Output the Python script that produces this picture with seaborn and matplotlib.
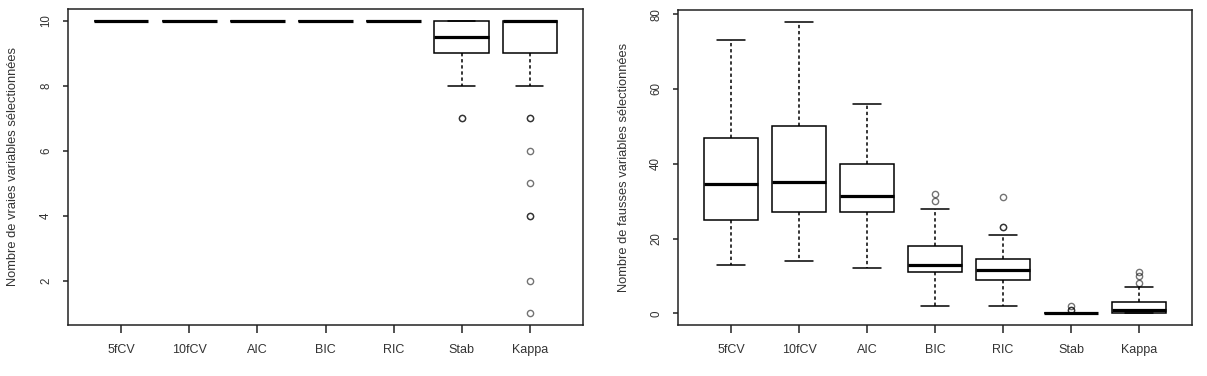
import pandas as pd
import matplotlib
matplotlib.use("Agg")
import matplotlib.pyplot as plt
import seaborn as sns

methodes = ['5fCV', '10fCV', 'AIC', 'BIC', 'RIC', 'Stab', 'Kappa']

# Nombre de vraies variables sélectionnées (10 = toutes)
vrais_5fcv = [10, 10, 10, 10, 10]
vrais_10fcv = [10, 10, 10, 10, 10]
vrais_aic = [10, 10, 10, 10, 10]
vrais_bic = [10, 10, 10, 10, 10]
vrais_ric = [10, 10, 10, 10, 10]
vrais_stab = [7, 7, 8, 9, 9, 9, 9, 10, 10, 10, 10, 10, 10, 10]
vrais_kappa = [1, 2, 4, 4, 5, 6, 7, 7, 8] + [9] * 6 + [10] * 22

# Nombre de fausses variables sélectionnées
faux_5fcv = [13, 25, 34.5, 47, 73]
faux_10fcv = [14, 27, 35, 50, 78]
faux_aic = [12, 27, 31.5, 40, 56]
faux_bic = [2, 11, 11, 11, 13, 13, 13, 18, 18, 18, 28, 30, 32]
faux_ric = [2, 9, 9, 9, 9, 11.5, 11.5, 11.5, 11.5, 14.5, 14.5, 14.5, 14.5, 21, 23, 23, 31]
faux_stab = [0, 0, 0, 0, 0, 0, 0, 0, 0, 0, 1, 1, 2]
faux_kappa = [0, 0, 0, 0, 0, 1, 1, 1, 1, 3, 3, 3, 3, 7, 8, 10, 11]

vrais = [vrais_5fcv, vrais_10fcv, vrais_aic, vrais_bic, vrais_ric, vrais_stab, vrais_kappa]
faux = [faux_5fcv, faux_10fcv, faux_aic, faux_bic, faux_ric, faux_stab, faux_kappa]


def long_df(series):
    rows = []
    for m, vals in zip(methodes, series):
        for v in vals:
            rows.append((m, v))
    return pd.DataFrame(rows, columns=['methode', 'valeur'])


sns.set_style("white")
plt.rcParams['font.family'] = ['Liberation Sans', 'DejaVu Sans']

fig = plt.figure(figsize=(12.07, 3.76), dpi=100)
ax1 = fig.add_axes([68 / 1207, 51 / 376, 515 / 1207, 316 / 376])
ax2 = fig.add_axes([678 / 1207, 51 / 376, 514 / 1207, 315 / 376])

style = dict(
    color='white', linecolor='black', saturation=1, width=0.8, linewidth=1.1,
    whiskerprops=dict(linestyle=(0, (2.2, 1.8))),
    medianprops=dict(linewidth=2.3, color='black'),
    flierprops=dict(marker='o', markerfacecolor='none', markeredgecolor='black',
                    markersize=4.5, markeredgewidth=1.0, alpha=0.55),
)

panels = [
    (ax1, vrais, 'Nombre de vraies variables sélectionnées', (0.64, 10.36), [2, 4, 6, 8, 10], -0.095),
    (ax2, faux, 'Nombre de fausses variables sélectionnées', (-3.12, 81.12), [0, 20, 40, 60, 80], -0.093),
]

for ax, series, label, ylim, yticks, lx in panels:
    df = long_df(series)
    sns.boxplot(data=df, x='methode', y='valeur', order=methodes, ax=ax, **style)
    ax.set_xlim(-0.78, 6.78)
    ax.set_ylim(*ylim)
    ax.set_yticks(yticks)
    ax.set_xlabel('')
    ax.set_ylabel(label, fontsize=9.3, color='#333333')
    ax.yaxis.set_label_coords(lx, 0.5)
    ax.tick_params(axis='x', length=6, width=1.1, pad=8, labelsize=9,
                   colors='#222222', labelcolor='#333333', bottom=True)
    ax.tick_params(axis='y', length=3.5, width=1.1, pad=8, labelsize=8.3,
                   colors='#222222', labelcolor='#333333', labelrotation=90, left=True)
    for tl in ax.get_yticklabels():
        tl.set_va('center')
    for s in ax.spines.values():
        s.set_visible(True)
        s.set_color('#222222')
        s.set_linewidth(1.1)

fig.savefig('out.png', dpi=100)
